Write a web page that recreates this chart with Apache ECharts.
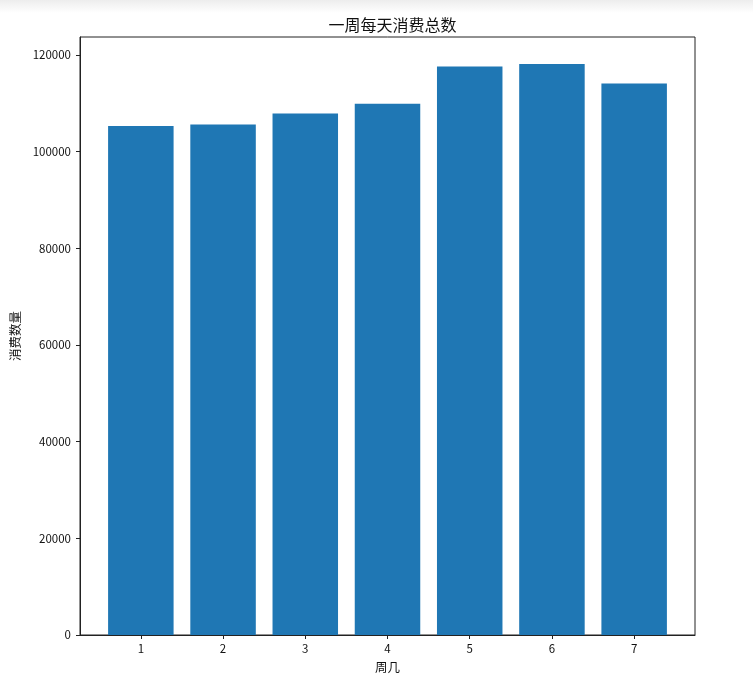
<!DOCTYPE html>
<html>
<head>
<meta charset="utf-8">
<script src="https://cdn.jsdelivr.net/npm/echarts@6/dist/echarts.min.js"></script>
<style>
html,body{margin:0;padding:0;background:#fff;}
#c{width:753px;height:692px;}
</style>
</head>
<body>
<div id="c"></div>
<script>
const titleText = '一周每天消费总数';
const xName = '周几';
const yName = '消费数量';
const days = [1, 2, 3, 4, 5, 6, 7];
const counts = [105300, 105600, 107900, 109900, 117600, 118100, 114100];
const yTicks = [0, 20000, 40000, 60000, 80000, 100000, 120000];

const FONT = "'Noto Sans CJK SC', sans-serif";
const chart = echarts.init(document.getElementById('c'), null, {renderer: 'canvas'});
chart.setOption({
  animation: false,
  backgroundColor: '#fff',
  graphic: [{
    type: 'rect',
    shape: {x: 0, y: 0, width: 753, height: 13},
    style: {fill: new echarts.graphic.LinearGradient(0, 0, 0, 1, [
      {offset: 0, color: '#ededed'}, {offset: 1, color: '#ffffff'}])},
    z: -1
  }],
  title: {
    text: titleText,
    left: 387.5,
    textAlign: 'center',
    top: 12,
    textStyle: {fontFamily: FONT, fontSize: 16, fontWeight: 'normal', color: '#111'}
  },
  grid: {
    left: 80, right: 58, top: 37, bottom: 57,
    show: true, borderColor: '#222', borderWidth: 1, backgroundColor: 'transparent'
  },
  xAxis: {
    type: 'value',
    min: 0.26, max: 7.74, splitNumber: 7,
    name: xName, nameLocation: 'middle', nameGap: 26,
    nameTextStyle: {fontFamily: FONT, fontSize: 12.5, color: '#111'},
    axisLine: {show: true, onZero: false, lineStyle: {color: '#222'}},
    axisTick: {show: true, inside: false, length: 4, lineStyle: {color: '#222'}},
    axisLabel: {
      margin: 8, fontFamily: FONT, fontSize: 11.5, color: '#111',
      showMinLabel: false, showMaxLabel: false,
      formatter: v => (days.indexOf(Math.round(v * 1000) / 1000) >= 0 ? String(Math.round(v)) : '')
    },
    splitLine: {show: false}
  },
  yAxis: {
    type: 'value',
    min: 0, max: 123700, interval: 20000,
    name: yName, nameLocation: 'middle', nameGap: 51, nameRotate: 90,
    nameTextStyle: {fontFamily: FONT, fontSize: 12.5, color: '#111'},
    axisLine: {show: true, lineStyle: {color: '#222'}},
    axisTick: {show: true, inside: false, length: 4, lineStyle: {color: '#222'}},
    axisLabel: {
      margin: 9, fontFamily: FONT, fontSize: 11.5, color: '#111',
      showMaxLabel: false,
      formatter: v => (yTicks.indexOf(v) >= 0 ? String(v) : '')
    },
    splitLine: {show: false}
  },
  series: [{
    type: 'bar',
    data: days.map((d, i) => [d, counts[i]]),
    barWidth: 65.5,
    itemStyle: {color: '#1f77b4'}
  }]
});
</script>
</body>
</html>
